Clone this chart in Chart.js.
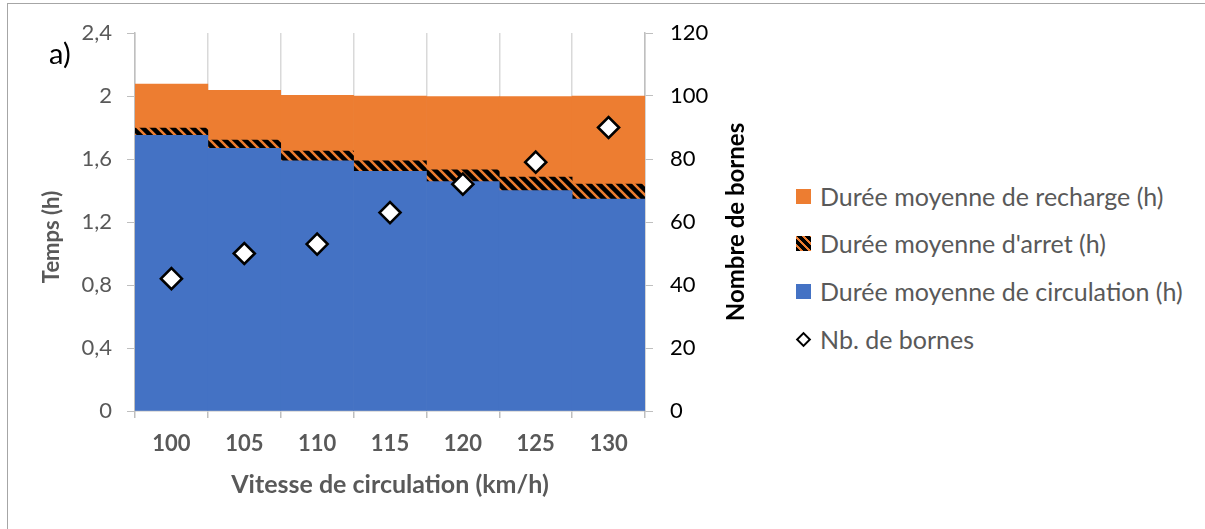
<!DOCTYPE html>
<html>
<head>
<meta charset="utf-8">
<script src="https://cdn.jsdelivr.net/npm/chart.js@4/dist/chart.umd.min.js"></script>
<style>
    body { margin: 0; background: #fff; width: 1205px; height: 529px; overflow: hidden; position: relative; font-family: Lato, sans-serif; }
    .frame { position: absolute; left: 7px; top: 3px; width: 1300px; height: 700px; border: 1.5px solid #a6a6a6; }
    .chart-box { position: absolute; left: 0; top: 0; width: 760px; height: 529px; }
    .tag { position: absolute; left: 49px; top: 35px; font-size: 29px; color: #000; }
    .legend { position: absolute; left: 796px; top: 0; color: #595959; font-size: 25px; }
    .legend-item { position: absolute; left: 0; white-space: nowrap; display: flex; align-items: center; height: 30px; }
    .legend-item .sw { width: 15px; height: 15px; margin-right: 9px; flex: none; }
</style>
</head>
<body>
<div class="frame"></div>
<div class="chart-box"><canvas id="chart"></canvas></div>
<div class="tag">a)</div>
<div class="legend" id="legend"></div>
<script>
const speeds = ['100', '105', '110', '115', '120', '125', '130'];
const circulation = [1.75, 1.667, 1.589, 1.521, 1.456, 1.399, 1.346];
const arret = [0.046, 0.053, 0.061, 0.068, 0.076, 0.086, 0.095];
const recharge = [0.279, 0.316, 0.354, 0.411, 0.464, 0.511, 0.559];
const bornes = [42, 50, 53, 63, 72, 79, 90];

const BLUE = '#4472c4';
const ORANGE = '#ed7d31';
const GREY = '#595959';
const AXIS = '#bfbfbf';

// black stripes with thin orange diagonals
function makeHatch() {
    const c = document.createElement('canvas');
    c.width = c.height = 10;
    const g = c.getContext('2d');
    g.fillStyle = '#000';
    g.fillRect(0, 0, 10, 10);
    g.strokeStyle = ORANGE;
    g.lineWidth = 2.6;
    g.beginPath();
    g.moveTo(-5, -5); g.lineTo(15, 15);
    g.moveTo(-5, 5); g.lineTo(5, 15);
    g.moveTo(5, -5); g.lineTo(15, 5);
    g.stroke();
    return g.createPattern(c, 'repeat');
}
const hatch = makeHatch();

function fmt(v) {
    return String(Math.round(v * 10) / 10).replace('.', ',');
}

// vertical axis titles drawn bottom-to-top, like the original
const axisTitles = {
    id: 'axisTitles',
    afterDraw(chart) {
        const ctx = chart.ctx;
        const area = chart.chartArea;
        ctx.save();
        ctx.textAlign = 'center';
        ctx.textBaseline = 'middle';

        ctx.font = 'bold 22px Lato';
        ctx.fillStyle = GREY;
        ctx.save();
        ctx.translate(52, 237);
        ctx.rotate(-Math.PI / 2);
        ctx.fillText('Temps (h)', 0, 0);
        ctx.restore();

        ctx.font = 'bold 24px Lato';
        ctx.fillStyle = '#000';
        ctx.translate(chart.scales.y1.right - 24, (area.top + area.bottom) / 2);
        ctx.rotate(-Math.PI / 2);
        ctx.fillText('Nombre de bornes', 0, 0);
        ctx.restore();
    }
};

new Chart(document.getElementById('chart'), {
    type: 'bar',
    data: {
        labels: speeds,
        datasets: [{
            type: 'line',
            label: 'Nb. de bornes',
            data: bornes,
            yAxisID: 'y1',
            showLine: false,
            pointStyle: 'rectRot',
            pointRadius: 10.5,
            pointHoverRadius: 10.5,
            pointBackgroundColor: '#fff',
            pointBorderColor: '#000',
            pointBorderWidth: 2.6,
            order: 0
        }, {
            label: 'Durée moyenne de circulation (h)',
            data: circulation,
            backgroundColor: BLUE,
            order: 1
        }, {
            label: "Durée moyenne d'arret (h)",
            data: arret,
            backgroundColor: hatch,
            order: 1
        }, {
            label: 'Durée moyenne de recharge (h)',
            data: recharge,
            backgroundColor: ORANGE,
            order: 1
        }]
    },
    options: {
        responsive: true,
        maintainAspectRatio: false,
        animation: false,
        barPercentage: 1,
        categoryPercentage: 1,
        layout: { padding: { top: 33, left: 0, right: 0, bottom: 0 } },
        plugins: {
            legend: { display: false },
            tooltip: { enabled: false }
        },
        scales: {
            x: {
                stacked: true,
                afterFit: s => { s.height = 118; },
                grid: {
                    offset: true,
                    color: '#d9d9d9',
                    lineWidth: 1.5,
                    tickColor: AXIS,
                    tickLength: 7
                },
                border: { color: AXIS, width: 1.5 },
                ticks: {
                    color: GREY,
                    padding: 13,
                    font: { family: 'Lato', size: 22, weight: 'bold' }
                },
                title: {
                    display: true,
                    text: 'Vitesse de circulation (km/h)',
                    color: GREY,
                    padding: { top: 0, bottom: 29 },
                    font: { family: 'Lato', size: 25, weight: 'bold' }
                }
            },
            y: {
                stacked: true,
                position: 'left',
                min: 0,
                max: 2.4,
                afterFit: s => { s.width = 135; },
                grid: { drawOnChartArea: false, color: AXIS, tickLength: 8 },
                border: { color: AXIS, width: 1.5 },
                ticks: {
                    stepSize: 0.4,
                    color: GREY,
                    padding: 15,
                    callback: v => fmt(v),
                    font: { family: 'Lato', size: 22 }
                }
            },
            y1: {
                position: 'right',
                min: 0,
                max: 120,
                afterFit: s => { s.width = 115; },
                grid: { drawOnChartArea: false, color: AXIS, tickLength: 8 },
                border: { color: AXIS, width: 1.5 },
                ticks: {
                    stepSize: 20,
                    color: '#000',
                    padding: 17,
                    font: { family: 'Lato', size: 22 }
                }
            }
        }
    },
    plugins: [axisTitles]
});

// legend, in the order of the original
const legendRows = [
    { text: 'Durée moyenne de recharge (h)', sw: 'background:' + ORANGE, y: 196 },
    { text: "Durée moyenne d'arret (h)", sw: 'background: repeating-linear-gradient(45deg, #000 0 3.5px, ' + ORANGE + ' 3.5px 5.5px)', y: 243 },
    { text: 'Durée moyenne de circulation (h)', sw: 'background:' + BLUE, y: 291 },
    { text: 'Nb. de bornes', sw: 'width:11px;height:11px;margin:0 11px 0 2px;border:2.4px solid #000;background:#fff;transform:rotate(45deg);box-sizing:border-box', y: 339 }
];
document.getElementById('legend').innerHTML = legendRows.map(r =>
    `<div class="legend-item" style="top:${r.y - 15}px"><span class="sw" style="${r.sw}"></span>${r.text}</div>`
).join('');
</script>
</body>
</html>
